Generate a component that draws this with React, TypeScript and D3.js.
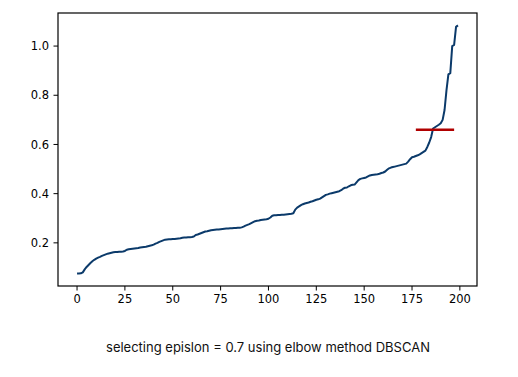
import React from "react";
import * as d3 from "d3";

const distances: number[] = [
  0.075, 0.075, 0.076, 0.08, 0.092, 0.102, 0.11, 0.118, 0.125, 0.131,
  0.136, 0.14, 0.143, 0.147, 0.15, 0.153, 0.156, 0.158, 0.16, 0.162,
  0.163, 0.163, 0.164, 0.164, 0.165, 0.167, 0.172, 0.174, 0.175, 0.176,
  0.177, 0.178, 0.179, 0.181, 0.182, 0.183, 0.184, 0.186, 0.188, 0.19,
  0.193, 0.197, 0.2, 0.204, 0.207, 0.21, 0.213, 0.214, 0.215, 0.215,
  0.216, 0.216, 0.217, 0.218, 0.219, 0.221, 0.222, 0.222, 0.223, 0.223,
  0.224, 0.226, 0.232, 0.234, 0.237, 0.24, 0.243, 0.246, 0.247, 0.249,
  0.251, 0.252, 0.253, 0.254, 0.254, 0.255, 0.256, 0.257, 0.258, 0.258,
  0.259, 0.259, 0.26, 0.26, 0.261, 0.261, 0.263, 0.266, 0.27, 0.273,
  0.276, 0.28, 0.284, 0.288, 0.29, 0.291, 0.293, 0.294, 0.295, 0.296,
  0.298, 0.303, 0.31, 0.312, 0.312, 0.313, 0.313, 0.314, 0.314, 0.315,
  0.316, 0.317, 0.318, 0.32, 0.335, 0.343, 0.348, 0.353, 0.357, 0.36,
  0.362, 0.364, 0.367, 0.369, 0.372, 0.375, 0.377, 0.38, 0.385, 0.39,
  0.395, 0.397, 0.4, 0.402, 0.404, 0.406, 0.408, 0.41, 0.414, 0.42,
  0.424, 0.425, 0.43, 0.434, 0.436, 0.437, 0.446, 0.455, 0.46, 0.462,
  0.464, 0.466, 0.47, 0.474, 0.476, 0.477, 0.478, 0.479, 0.481, 0.484,
  0.486, 0.49, 0.497, 0.503, 0.506, 0.508, 0.51, 0.512, 0.514, 0.516,
  0.518, 0.52, 0.522, 0.53, 0.54, 0.548, 0.55, 0.553, 0.556, 0.56,
  0.565, 0.57, 0.575, 0.59, 0.608, 0.63, 0.665, 0.67, 0.675, 0.68,
  0.686, 0.7, 0.74, 0.82, 0.885, 0.89, 1.0, 1.005, 1.078, 1.084,
];

const xTicks: number[] = [0, 25, 50, 75, 100, 125, 150, 175, 200];
const yTicks: number[] = [0.2, 0.4, 0.6, 0.8, 1.0];
const epsilonLine = { y: 0.66, x1: 177, x2: 197 };
const caption = "selecting epislon = 0.7 using elbow method DBSCAN";

export default function App() {
  const W = 518;
  const H = 377;
  const left = 58, right = 477, top = 13, bottom = 286;
  const n = distances.length;
  const xMin = 0, xMax = n - 1;
  const xPad = (xMax - xMin) * 0.05;
  const yLo = d3.min(distances)!;
  const yHi = d3.max(distances)!;
  const yPad = (yHi - yLo) * 0.05;
  const x = d3.scaleLinear().domain([xMin - xPad, xMax + xPad]).range([left, right]);
  const y = d3.scaleLinear().domain([yLo - yPad, yHi + yPad]).range([bottom, top]);
  const line = d3
    .line<number>()
    .x((_, i) => x(i))
    .y((d) => y(d));
  const font = "DejaVu Sans, sans-serif";
  return (
    <svg width={W} height={H} style={{ position: "absolute", left: 0, top: 0, background: "#fff" }}>
      <rect x={0} y={0} width={W} height={H} fill="#fff" />
      <path d={line(distances)!} fill="none" stroke="#0b3a6a" strokeWidth={2} strokeLinejoin="round" />
      <line
        x1={x(epsilonLine.x1)}
        x2={x(epsilonLine.x2)}
        y1={y(epsilonLine.y)}
        y2={y(epsilonLine.y)}
        stroke="#b00000"
        strokeWidth={2.5}
      />
      <rect x={left} y={top} width={right - left} height={bottom - top} fill="none" stroke="#000" strokeWidth={1.2} />
      {xTicks.map((t) => (
        <g key={"x" + t}>
          <line x1={x(t)} x2={x(t)} y1={bottom} y2={bottom + 4.5} stroke="#000" strokeWidth={1} />
          <text x={x(t)} y={bottom + 17} textAnchor="middle" fontFamily={font} fontSize={11.5} fill="#000">
            {t}
          </text>
        </g>
      ))}
      {yTicks.map((t) => (
        <g key={"y" + t}>
          <line x1={left - 4.5} x2={left} y1={y(t)} y2={y(t)} stroke="#000" strokeWidth={1} />
          <text x={left - 9} y={y(t)} dy="0.36em" textAnchor="end" fontFamily={font} fontSize={11.5} fill="#000">
            {t.toFixed(1)}
          </text>
        </g>
      ))}
      <text x={268} y={352} textAnchor="middle" fontFamily="Inter, sans-serif" fontSize={13} fill="#111">
        {caption}
      </text>
    </svg>
  );
}
